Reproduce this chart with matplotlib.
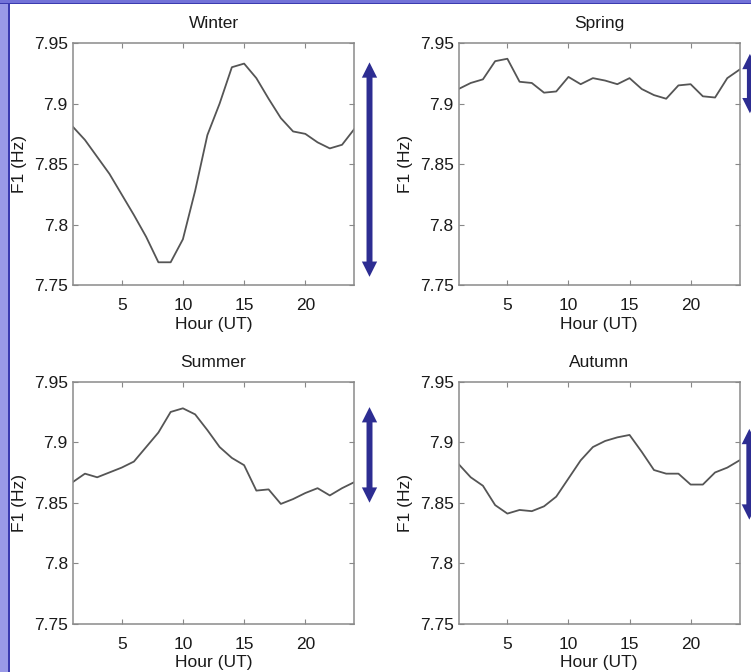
import numpy as np
import matplotlib
matplotlib.use("Agg")
import matplotlib.pyplot as plt
from matplotlib.patches import Rectangle

# hourly mean F1 per season
hours = np.arange(1, 25)
seasons = ["Winter", "Spring", "Summer", "Autumn"]

winter = [7.881, 7.870, 7.856, 7.842, 7.825, 7.808, 7.790, 7.769, 7.769, 7.788,
          7.828, 7.874, 7.900, 7.930, 7.933, 7.921, 7.904, 7.888, 7.877, 7.875,
          7.868, 7.863, 7.866, 7.879]
spring = [7.912, 7.917, 7.920, 7.935, 7.937, 7.918, 7.917, 7.909, 7.910, 7.922,
          7.916, 7.921, 7.919, 7.916, 7.921, 7.912, 7.907, 7.904, 7.915, 7.916,
          7.906, 7.905, 7.921, 7.928]
summer = [7.867, 7.874, 7.871, 7.875, 7.879, 7.884, 7.896, 7.908, 7.925, 7.928,
          7.923, 7.910, 7.896, 7.887, 7.881, 7.860, 7.861, 7.849, 7.853, 7.858,
          7.862, 7.856, 7.862, 7.867]
autumn = [7.882, 7.871, 7.864, 7.848, 7.841, 7.844, 7.843, 7.847, 7.855, 7.870,
          7.885, 7.896, 7.901, 7.904, 7.906, 7.892, 7.877, 7.874, 7.874, 7.865,
          7.865, 7.875, 7.879, 7.885]
series = [winter, spring, summer, autumn]

# extent of the blue double arrows (Hz)
arrow_lo = [7.757, 7.892, 7.850, 7.836]
arrow_hi = [7.934, 7.941, 7.929, 7.911]

yticks = [7.75, 7.8, 7.85, 7.9, 7.95]
ytick_labels = ["7.75", "7.8", "7.85", "7.9", "7.95"]
xticks = [5, 10, 15, 20]

FS = 12.5
NAVY = "#2d2d92"
plt.rcParams["font.family"] = ["Liberation Sans", "DejaVu Sans"]
plt.rcParams["font.size"] = FS

W, H = 751, 672
fig = plt.figure(figsize=(W / 100, H / 100), dpi=100, facecolor="white")

# slide decoration: lavender strip on the left, thin band on top
fig.patches.append(Rectangle((0, 0), 8 / W, 1, transform=fig.transFigure,
                             facecolor="#9a9ae8", edgecolor="none", zorder=0))
fig.patches.append(Rectangle((8 / W, 0), 1.5 / W, 1, transform=fig.transFigure,
                             facecolor="#3b3bb0", edgecolor="none", zorder=0))
fig.patches.append(Rectangle((0, 1 - 3 / H), 1, 3 / H, transform=fig.transFigure,
                             facecolor="#7272d8", edgecolor="none", zorder=0))
fig.patches.append(Rectangle((0, 1 - 4 / H), 1, 1.2 / H, transform=fig.transFigure,
                             facecolor="#3b3bb0", edgecolor="none", zorder=0))

# axes boxes in pixels: left, top, right, bottom
boxes = [(72.7, 43.0, 354.3, 285.3),
         (458.5, 43.0, 739.5, 285.3),
         (72.7, 381.7, 354.3, 623.7),
         (458.5, 381.7, 739.5, 623.7)]
arrow_x = [1.054, 1.037, 1.054, 1.035]

for name, vals, box, ax_x, lo, hi in zip(seasons, series, boxes, arrow_x, arrow_lo, arrow_hi):
    l, t, r, b = box
    ax = fig.add_axes([l / W, 1 - b / H, (r - l) / W, (b - t) / H])
    ax.plot(hours, vals, color="#555555", lw=1.3)
    ax.set_xlim(1, 24)
    ax.set_ylim(7.75, 7.95)
    ax.set_xticks(xticks)
    ax.set_yticks(yticks)
    ax.set_yticklabels(ytick_labels)
    ax.tick_params(direction="in", top=True, right=True, length=3.5, width=0.8,
                   color="#888888", labelcolor="#1a1a1a", labelsize=FS)
    ax.tick_params(axis="x", pad=9.5)
    ax.tick_params(axis="y", pad=3.5)
    for sp in ax.spines.values():
        sp.set_color("#8a8a8a")
        sp.set_linewidth(1.1)
    ax.set_title(name, pad=10.5, color="#1a1a1a", fontsize=FS)
    ax.set_xlabel("Hour (UT)", labelpad=2.5, color="#1a1a1a", fontsize=FS)
    ax.set_ylabel("F1 (Hz)", labelpad=5, color="#1a1a1a", fontsize=FS)

    # double arrow: thick shaft plus two filled heads
    coords = dict(xycoords=("axes fraction", "data"),
                  textcoords=("axes fraction", "data"),
                  annotation_clip=False)
    ax.annotate("", xy=(ax_x, hi), xytext=(ax_x, lo),
                arrowprops=dict(arrowstyle="-", color=NAVY, lw=4.3,
                                shrinkA=7, shrinkB=7, capstyle="butt"),
                **coords)
    ax.annotate("", xy=(ax_x, hi), xytext=(ax_x, lo),
                arrowprops=dict(arrowstyle="<|-|>,head_length=1.1,head_width=0.55",
                                facecolor=NAVY, edgecolor="none", lw=0,
                                shrinkA=0, shrinkB=0, mutation_scale=10),
                **coords)

fig.savefig("out.png", dpi=100, facecolor="white")
